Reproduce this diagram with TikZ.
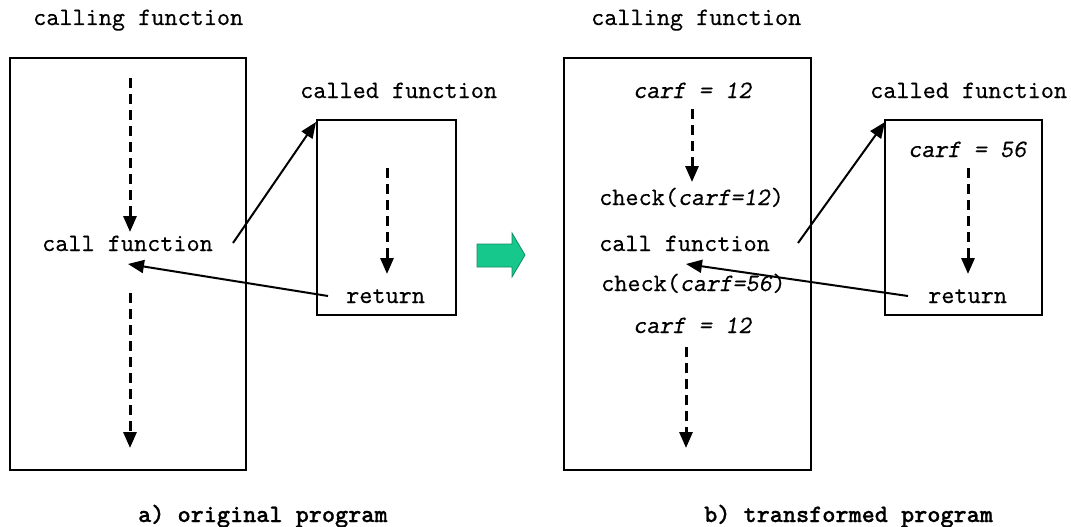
\documentclass[tikz,border=0pt]{standalone}
\usepackage{fontspec}
\newfontfamily\courfont{lmmono10-regular.otf}[ItalicFont=lmmonoslant10-regular.otf, FakeBold=0.2]
\newfontfamily\courbold{lmmonolt10-bold.otf}[FakeBold=0.8]
\usetikzlibrary{arrows.meta}
\definecolor{arrowgreen}{RGB}{22,200,140}
\definecolor{arrowedge}{RGB}{20,140,100}
\tikzset{
  lbl/.style={anchor=base west, inner sep=0pt, font=\fontsize{25}{27}\selectfont\courfont},
  captxt/.style={anchor=base west, inner sep=0pt, font=\fontsize{25}{27}\selectfont\courbold},
  frame/.style={draw, line width=1.2pt, inner sep=0pt},
  flow/.style={line width=3pt, dash pattern=on 10pt off 6pt, -{Triangle[length=16pt,width=13pt]}},
  link/.style={line width=2pt, -{Triangle[length=16pt,width=13pt]}},
}
\begin{document}
\begin{tikzpicture}[x=1pt,y=-1pt]
\useasboundingbox (0,0) rectangle (1071,527);
% ---------- a) original ----------
\node[lbl] (ta1) at (33,25) {calling function};
\node[frame, minimum width=236pt, minimum height=412pt] (boxA) at (128,264) {};
\node[lbl] (callA) at (42,251) {call function};
\node[lbl] (tb1) at (300,98) {called function};
\node[frame, minimum width=139pt, minimum height=195pt] (subA) at (386.5,217.5) {};
\node[lbl] (retA) at (346,303) {return};
\node[captxt] (capA) at (138,522) {a) original program};
\coordinate (a1s) at (130,78);  \coordinate (a1e) at (130,232);
\coordinate (a2s) at (130,293); \coordinate (a2e) at (130,448);
\coordinate (a3s) at (387,168); \coordinate (a3e) at (387,274);
\coordinate (aCs) at (233,243); \coordinate (aCe) at (316,122);
\coordinate (aRs) at (328,296); \coordinate (aRe) at (128,264);
\draw[flow] (a1s) -- (a1e);
\draw[flow] (a2s) -- (a2e);
\draw[flow] (a3s) -- (a3e);
\draw[link] (aCs) -- (aCe);
\draw[link] (aRs) -- (aRe);
% ---------- green arrow ----------
\node[inner sep=0pt] (green) at (501,255) {};
\filldraw[fill=arrowgreen, draw=arrowedge, line width=0.8pt]
  (477,244) -- (512,244) -- (512,233) -- (525,255) -- (512,277) -- (512,267) -- (477,267) -- cycle;
% ---------- b) transformed ----------
\node[lbl] (ta2) at (591,25) {calling function};
\node[frame, minimum width=247pt, minimum height=412pt] (boxB) at (687.5,264) {};
\node[lbl] (c12a) at (633,98) {\itshape carf = 12};
\node[lbl] (chk12) at (599,205) {check(\textit{carf=12})};
\node[lbl] (callB) at (599,251) {call function};
\node[lbl] (chk56) at (601,291) {check(\textit{carf=56})};
\node[lbl] (c12b) at (633,333) {\itshape carf = 12};
\node[lbl] (tb2) at (870,98) {called function};
\node[frame, minimum width=157pt, minimum height=195pt] (subB) at (963.5,217.5) {};
\node[lbl] (c56) at (908,157) {\itshape carf = 56};
\node[lbl] (retB) at (928,303) {return};
\node[captxt] (capB) at (704,522) {b) transformed program};
\coordinate (b1s) at (692,109); \coordinate (b1e) at (692,182);
\coordinate (b2s) at (686,347); \coordinate (b2e) at (686,448);
\coordinate (b3s) at (968,168); \coordinate (b3e) at (968,274);
\coordinate (bCs) at (798,243); \coordinate (bCe) at (885,122);
\coordinate (bRs) at (908,296); \coordinate (bRe) at (686,264);
\draw[flow] (b1s) -- (b1e);
\draw[flow] (b2s) -- (b2e);
\draw[flow] (b3s) -- (b3e);
\draw[link] (bCs) -- (bCe);
\draw[link] (bRs) -- (bRe);
\end{tikzpicture}
\end{document}
